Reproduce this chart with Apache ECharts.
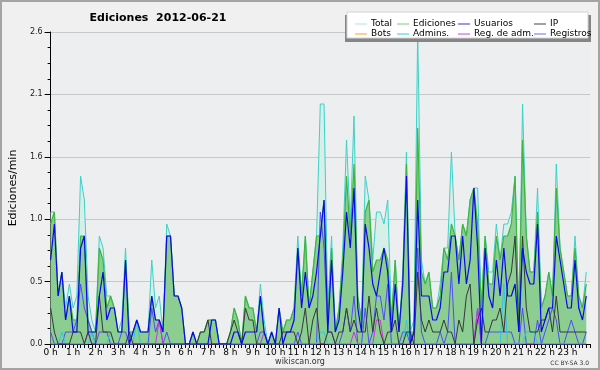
<!DOCTYPE html>
<html><head><meta charset="utf-8">
<script src="https://cdn.jsdelivr.net/npm/echarts@6/dist/echarts.min.js"></script>
<style>html,body{margin:0;padding:0;background:#f0f0f0}#c{width:600px;height:370px}</style>
</head><body><div id="c"></div>
<script>
// 10-minute bins, 144 per day (values in ediciones/min)
const hourLabels = ['0 h','1 h','2 h','3 h','4 h','5 h','6 h','7 h','8 h','9 h','10 h','11 h','12 h','13 h','14 h','15 h','16 h','17 h','18 h','19 h','20 h','21 h','22 h','23 h'];
const yTickValues = [0, 0.52, 1.04, 1.56, 2.08, 2.6];

const total = [
1.1,1.1,0.4,0.6,0.3,0.5,0.3,0.4,1.4,1.2,
0.4,0.2,0.1,0.9,0.8,0.4,0.4,0.3,0.1,0.2,
0.8,0.1,0.1,0.2,0.1,0.1,0.1,0.7,0.3,0.4,
0.1,1.0,0.9,0.4,0.4,0.3,0,0,0.1,0,
0.1,0.1,0.2,0.2,0.2,0,0,0,0.1,0.3,
0.2,0,0.4,0.3,0.3,0.1,0.5,0.2,0,0.1,
0,0.3,0.1,0.2,0.2,0.3,0.9,0.4,0.9,0.3,
0.6,0.9,2.0,2.0,0.3,0.9,0.1,0.3,0.8,1.7,
1.0,1.9,0.4,0.2,1.4,1.2,0.7,1.1,1.1,1.0,
1.2,0.2,0.7,0.1,0.6,1.6,0.1,0.2,2.6,0.7,
0.5,0.6,0.3,0.3,0.5,0.8,0.8,1.6,0.9,0.7,
1.0,0.9,1.2,1.3,1.3,0.3,0.9,0.6,0.6,1.0,
0.7,1.0,1.0,1.1,1.4,0.2,2.0,0.9,0.6,0.6,
1.3,0.3,0.4,0.6,0.4,1.5,0.8,0.6,0.4,0.4,
0.9,0.4,0.3,0.6];

const ediciones = [
1.0,1.1,0.4,0.6,0.2,0.4,0.2,0.2,0.9,0.9,
0.2,0.1,0.1,0.8,0.7,0.3,0.4,0.3,0.1,0.1,
0.7,0.1,0.1,0.2,0.1,0.1,0.1,0.4,0.2,0.2,
0.1,0.9,0.9,0.4,0.4,0.3,0,0,0.1,0,
0.1,0.1,0.2,0.2,0.2,0,0,0,0.1,0.3,
0.2,0,0.4,0.3,0.3,0.1,0.4,0.1,0,0.1,
0,0.3,0.1,0.2,0.2,0.3,0.8,0.4,0.9,0.3,
0.6,0.9,0.9,1.2,0.2,0.8,0.1,0.3,0.7,1.4,
0.9,1.5,0.4,0.2,1.1,1.2,0.6,0.7,0.7,0.8,
0.7,0.2,0.7,0.1,0.5,1.5,0.1,0.1,1.8,0.6,
0.5,0.6,0.3,0.3,0.4,0.8,0.7,1.0,0.9,0.7,
1.0,0.9,1.2,1.3,1.0,0.3,0.9,0.5,0.5,0.9,
0.7,0.9,0.9,1.0,1.4,0.2,1.7,0.9,0.6,0.6,
1.1,0.3,0.4,0.6,0.4,1.3,0.8,0.6,0.4,0.4,
0.8,0.4,0.3,0.5];

const usuarios = [
0.7,1.0,0.4,0.6,0.2,0.4,0.1,0.1,0.8,0.9,
0.1,0.1,0.1,0.4,0.6,0.2,0.3,0.3,0.1,0.1,
0.7,0,0.1,0.2,0.1,0.1,0.1,0.4,0.2,0.2,
0.1,0.9,0.9,0.4,0.4,0.3,0,0,0.1,0,
0,0,0,0.2,0.2,0,0,0,0,0.1,
0.1,0,0.1,0.1,0.1,0.1,0.4,0.1,0,0.1,
0,0.3,0,0.1,0.1,0.2,0.8,0.3,0.6,0.3,
0.4,0.6,0.9,1.2,0.1,0.7,0.1,0.2,0.6,1.1,
0.8,1.3,0.3,0.1,1.0,0.8,0.5,0.4,0.6,0.8,
0.6,0.1,0.5,0.1,0.5,1.4,0,0.1,1.2,0.4,
0.4,0.4,0.2,0.2,0.3,0.6,0.6,0.9,0.9,0.5,
0.9,0.5,0.7,1.3,0.8,0,0.8,0.4,0.3,0.7,
0.4,0.8,0.4,0.4,0.5,0.1,0.8,0.6,0.5,0.5,
1.0,0.1,0.2,0.3,0.3,0.9,0.7,0.5,0.3,0.3,
0.7,0.3,0.2,0.4];

const ip = [
0.3,0.1,0,0,0,0,0.1,0.1,0.1,0,
0.1,0,0,0.4,0.1,0.1,0.1,0,0,0,
0,0.1,0,0,0,0,0,0,0,0,
0,0,0,0,0,0,0,0,0,0,
0.1,0.1,0.2,0,0,0,0,0,0.1,0.2,
0.1,0,0.3,0.2,0.2,0,0,0,0,0,
0,0,0.1,0.1,0.1,0.1,0,0.1,0.3,0,
0.2,0.3,0,0,0.1,0.1,0,0.1,0.1,0.3,
0.1,0.2,0.1,0.1,0.1,0.4,0.1,0.3,0.1,0,
0.1,0.1,0.2,0,0,0.1,0.1,0,0.6,0.2,
0.1,0.2,0.1,0.1,0.1,0.2,0.1,0.1,0,0.2,
0.1,0.4,0.5,0,0.2,0.3,0.1,0.1,0.2,0.2,
0.3,0.1,0.5,0.6,0.9,0.1,0.9,0.3,0.1,0.1,
0.1,0.2,0.2,0.3,0.1,0.4,0.1,0.1,0.1,0.1,
0.1,0.1,0.1,0.1];

const registros = [
0.1,0,0,0,0.1,0.1,0.1,0.2,0.5,0.3,
0.2,0.1,0,0.1,0.1,0.1,0,0,0,0.1,
0.1,0,0,0,0,0,0,0.3,0.1,0.2,
0,0.1,0,0,0,0,0,0,0,0,
0,0,0,0,0,0,0,0,0,0,
0,0,0,0,0,0,0.1,0.1,0,0,
0,0,0,0,0,0,0.1,0,0,0,
0,0,1.1,0.8,0.1,0.1,0,0,0.1,0.3,
0.1,0.4,0,0,0.3,0,0.1,0.4,0.4,0.2,
0.5,0,0,0,0.1,0.1,0,0.1,0.8,0.1,
0,0,0,0,0.1,0,0.1,0.6,0,0,
0,0,0,0,0.3,0,0,0.1,0.1,0.1,
0.1,0.1,0.1,0.1,0,0,0.3,0,0,0,
0.2,0,0.1,0.2,0.3,0.2,0,0,0.1,0.2,
0.1,0,0,0.1];

const admins = [
0,0,0,0.1,0,0,0,0,0,0,
0,0.1,0,0,0,0,0.1,0,0,0,
0,0,0,0.2,0,0,0,0,0,0,
0,0,0,0,0,0,0,0,0,0,
0,0,0,0.2,0.2,0,0,0,0,0,
0,0,0,0,0,0,0,0,0,0,
0,0,0,0,0,0,0,0,0,0,
0,0,0.1,0.1,0,0,0,0,0,0,
0,0,0,0,0,0,0,0,0,0,
0,0,0,0,0,0.2,0,0,0,0,
0,0,0,0,0,0,0,0,0,0,
0,0,0,0,0,0,0,0,0,0,
0,0.5,0,0,0,0,0,0.1,0.1,0.1,
0,0,0,0,0,0,0,0,0,0,
0,0,0,0];

const regAdm = [
0,0,0,0,0,0,0,0,0,0,
0.1,0,0,0,0,0,0,0,0,0,
0,0,0,0,0,0,0,0,0,0.2,
0,0,0,0,0,0,0,0,0,0,
0,0,0,0,0,0,0,0,0,0,
0,0,0,0,0,0,0,0.1,0,0,
0,0,0,0,0,0,0,0,0,0,
0,0,0,0,0,0,0,0,0,0,
0,0.1,0,0,0,0,0,0.2,0.2,0,
0,0,0,0,0,0,0,0,0,0,
0,0,0,0,0,0,0,0,0,0,
0,0,0,0,0.3,0,0,0,0,0,
0,0,0,0,0,0,0,0,0,0,
0,0,0,0,0,0,0,0,0,0,
0,0,0,0];

const bots = [];

const pairs = a => a.map((v, i) => [i, v]);
const F = 'DejaVu Sans';

function line(name, data, color, width, z, area) {
  const s = {
    name, type: 'line', data: pairs(data), showSymbol: false, symbol: 'none',
    lineStyle: { color, width }, itemStyle: { color }, z, animation: false, silent: true
  };
  if (area) s.areaStyle = { color: area, opacity: 1 };
  return s;
}

const chart = echarts.init(document.getElementById('c'), null, { renderer: 'canvas' });
const legendBase = {
  orient: 'vertical', itemGap: 0, itemWidth: 12, itemHeight: 1, icon: 'rect',
  selectedMode: false, top: 14, z: 20,
  textStyle: { fontFamily: F, fontSize: 9, color: '#000', lineHeight: 10, padding: [0, 0, 0, -1] }
};
chart.setOption({
  backgroundColor: '#f0f0f0',
  animation: false,
  title: {
    text: 'Ediciones  2012-06-21', left: 153, top: 8, textAlign: 'center',
    textStyle: { fontFamily: F, fontWeight: 'bold', fontSize: 11, color: '#000' }
  },
  legend: [
    Object.assign({}, legendBase, { left: 350, data: [{ name: 'Total', itemStyle: { color: '#ade3e3' } }, { name: 'Bots', itemStyle: { color: '#f5a030' } }] }),
    Object.assign({}, legendBase, { left: 392, data: [{ name: 'Ediciones', itemStyle: { color: '#7dcc7d' } }, { name: 'Admins.', itemStyle: { color: '#3cc8dc' } }] }),
    Object.assign({}, legendBase, { left: 453, data: [{ name: 'Usuarios', itemStyle: { color: '#3434d8' } }, { name: 'Reg. de adm.', itemStyle: { color: '#d040e8' } }] }),
    Object.assign({}, legendBase, { left: 529, data: [{ name: 'IP', itemStyle: { color: '#404040' } }, { name: 'Registros', itemStyle: { color: '#6a6af0' } }] })
  ],
  grid: { left: 46, right: 10, top: 32, bottom: 26, show: true, backgroundColor: '#eceef0', borderWidth: 0 },
  xAxis: {
    type: 'value', min: 0, max: 144, interval: 6,
    axisLine: { lineStyle: { color: '#000', width: 1 } },
    axisTick: { show: true, length: 4, lineStyle: { color: '#000' } },
    minorTick: { show: true, splitNumber: 6, length: 4, lineStyle: { color: '#000' } },
    splitLine: { show: false },
    axisLabel: { fontFamily: F, fontSize: 9, color: '#000', margin: 4, hideOverlap: false,
      formatter: v => (v / 6 < hourLabels.length ? hourLabels[v / 6] : '') }
  },
  yAxis: {
    type: 'value', min: 0, max: 2.6, interval: 0.52,
    name: 'Ediciones/min', nameLocation: 'middle', nameGap: 31,
    nameTextStyle: { fontFamily: F, fontSize: 11, color: '#000' },
    axisLine: { show: true, lineStyle: { color: '#000', width: 1 } },
    axisTick: { show: true, length: 6, lineStyle: { color: '#000' } },
    minorTick: { show: true, splitNumber: 4, length: 3, lineStyle: { color: '#000' } },
    splitLine: { show: true, lineStyle: { color: '#c8c8c8', width: 1 } },
    axisLabel: { fontFamily: F, fontSize: 8, color: '#222', margin: 8, formatter: v => v.toFixed(1) }
  },
  series: [
    line('Total', total, '#3fd0c8', 1, 1, '#d6efe9'),
    line('Ediciones', ediciones, '#3fb53f', 1.2, 2, 'rgba(104,188,104,0.68)'),
    line('Bots', bots, '#f5a030', 1, 3),
    line('Registros', registros, '#4e4ef2', 1, 4),
    line('Reg. de adm.', regAdm, '#cc33dd', 1, 5),
    line('Admins.', admins, '#2ec8e4', 1, 6),
    line('IP', ip, '#383838', 1, 7),
    line('Usuarios', usuarios, '#0a0ae6', 1.2, 8)
  ],
  graphic: [
    { type: 'rect', z: 0, zlevel: 0, silent: true, shape: { x: 1, y: 1, width: 598, height: 368 },
      style: { fill: 'none', stroke: '#a4a4a4', lineWidth: 2 } },
    { type: 'rect', z: 18, silent: true, shape: { x: 345, y: 15, width: 246, height: 27 }, style: { fill: '#858585' } },
    { type: 'rect', z: 19, silent: true, shape: { x: 347, y: 12, width: 241, height: 26 }, style: { fill: '#ffffff', stroke: '#d4d4d4', lineWidth: 1 } },
    { type: 'text', z: 10, silent: true, left: 'center', top: 358,
      style: { text: 'wikiscan.org', font: '8px "DejaVu Sans"', fill: '#333' } },
    { type: 'text', z: 10, silent: true, right: 11, top: 360,
      style: { text: 'CC BY-SA 3.0', font: '6px "DejaVu Sans"', fill: '#333' } }
  ]
});
</script></body></html>
